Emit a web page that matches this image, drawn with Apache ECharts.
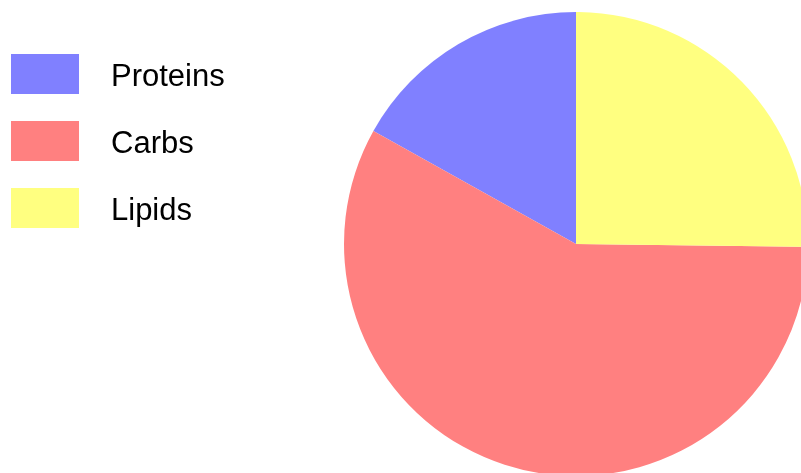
<!DOCTYPE html>
<html>
<head>
<meta charset="utf-8">
<script src="https://cdn.jsdelivr.net/npm/echarts@6/dist/echarts.min.js"></script>
<style>html,body{margin:0;padding:0;background:#fff}#c{width:801px;height:473px}</style>
</head>
<body>
<div id="c"></div>
<script>
const categories = ["Proteins", "Carbs", "Lipids"];
const values = [16.9, 57.9, 25.2];
const colors = ["#8080FF", "#FF8080", "#FFFF80"];

const chart = echarts.init(document.getElementById('c'), null, {renderer: 'canvas'});
chart.setOption({
  animation: false,
  backgroundColor: '#ffffff',
  legend: {
    orient: 'vertical',
    left: 11,
    top: 54,
    padding: 0,
    itemWidth: 68,
    itemHeight: 40,
    itemGap: 27,
    icon: 'rect',
    selectedMode: false,
    data: categories,
    formatter: '{a|{name}}',
    textStyle: {
      fontFamily: 'Liberation Sans',
      fontSize: 31,
      color: '#000',
      rich: {
        a: {
          fontFamily: 'Liberation Sans',
          fontSize: 31,
          color: '#000',
          padding: [6, 0, 0, 27]
        }
      }
    }
  },
  series: [{
    type: 'pie',
    center: [576, 244],
    radius: 232,
    startAngle: 90,
    clockwise: false,
    label: {show: false},
    labelLine: {show: false},
    emphasis: {disabled: true},
    itemStyle: {borderWidth: 0},
    data: categories.map((c, i) => ({name: c, value: values[i], itemStyle: {color: colors[i]}}))
  }]
});
</script>
</body>
</html>
